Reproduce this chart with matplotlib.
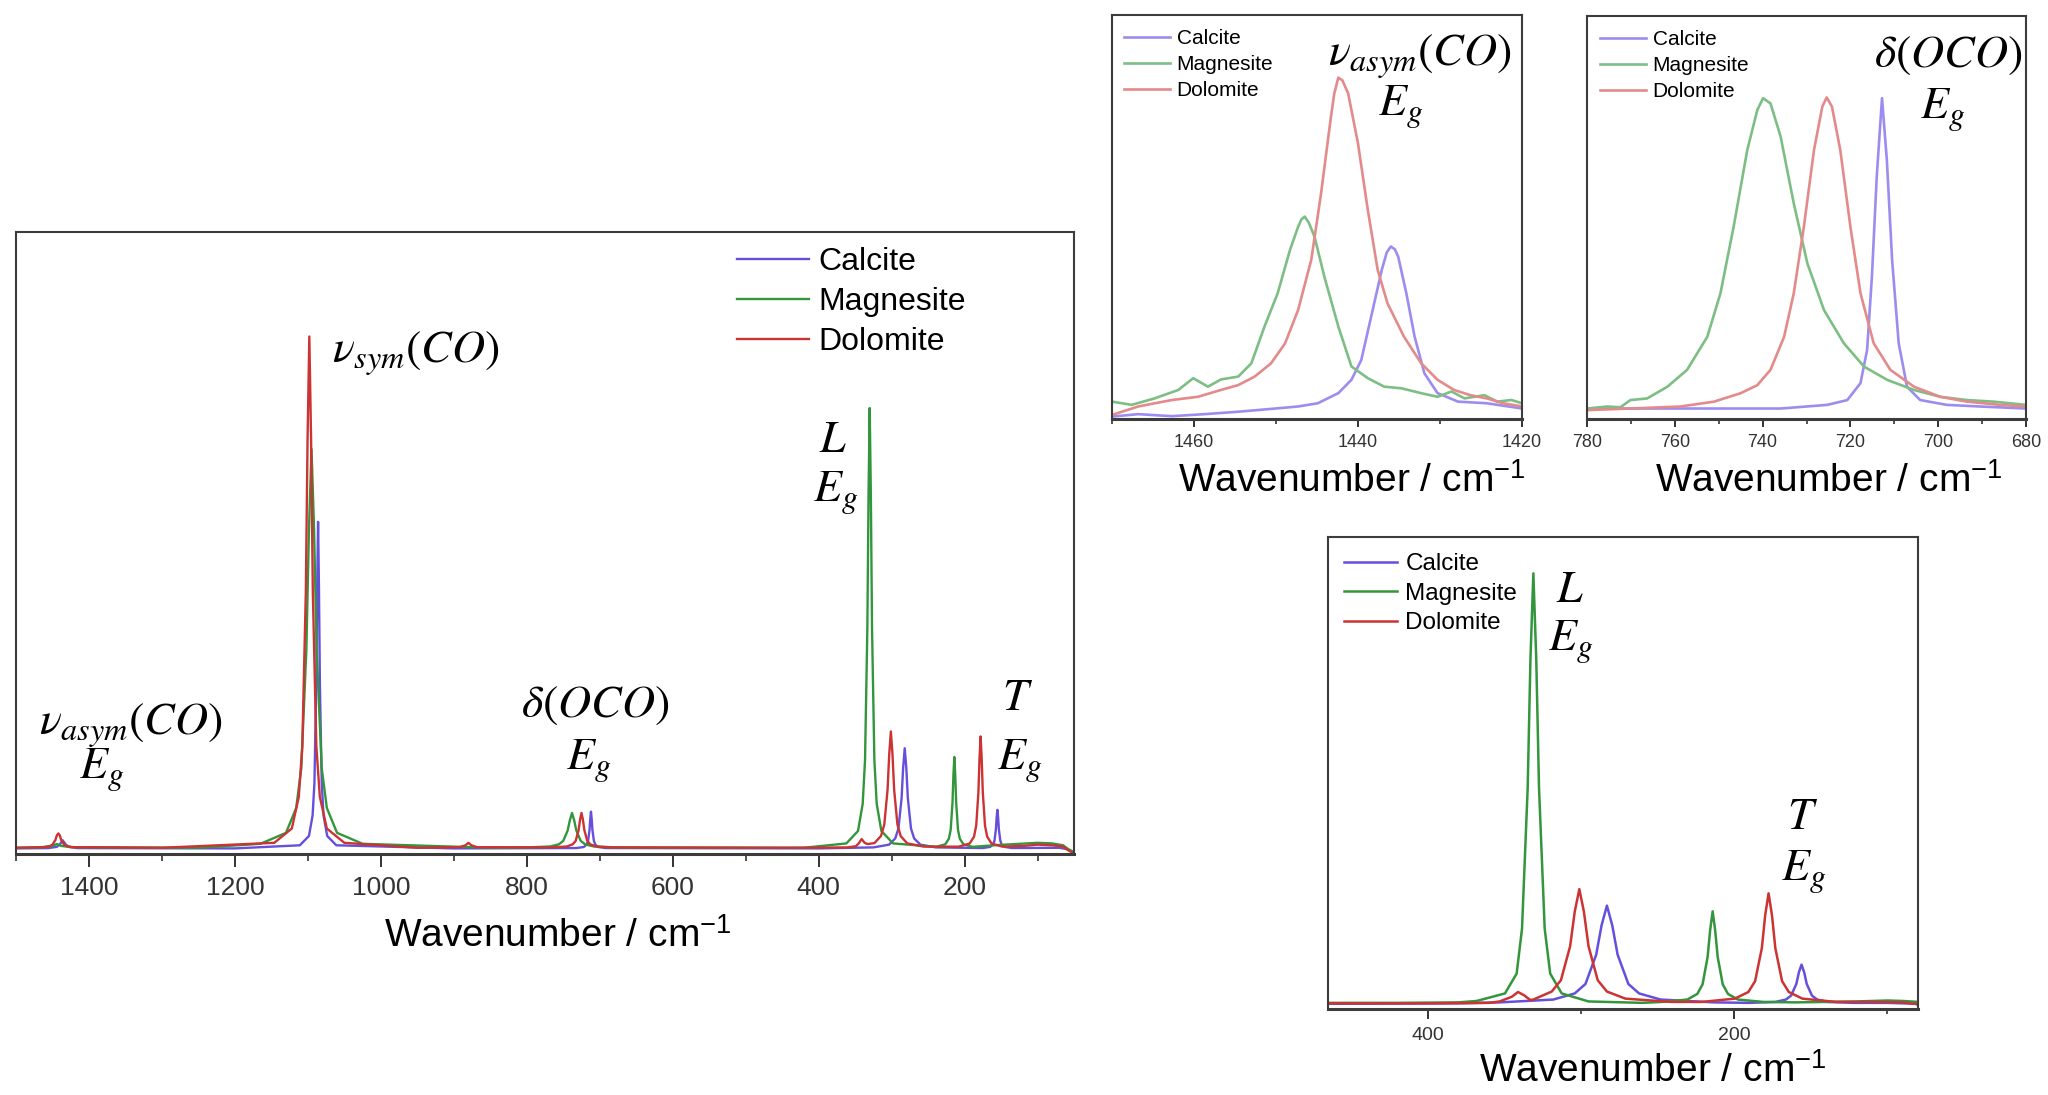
import matplotlib
matplotlib.use("Agg")
import matplotlib.pyplot as plt
from matplotlib.ticker import MultipleLocator

plt.rcParams['font.family'] = ['Liberation Sans', 'DejaVu Sans']
plt.rcParams['mathtext.fontset'] = 'stix'

series_names = ["Calcite", "Magnesite", "Dolomite"]

# ---------------- main panel (intensity in % of axis height) ----------------
main_cal_x = [1500, 1456, 1444, 1440, 1436, 1432, 1428, 1416, 1200, 1111, 1098.5, 1093.5, 1091, 1088.5, 1087.2,
              1086, 1084.8, 1083.5, 1081, 1078.5, 1073.5, 1061, 900, 732, 722, 718, 716, 714, 713, 712, 711, 710,
              708, 706, 702, 692, 400, 325, 303.5, 295, 290.6, 286.3, 284.2, 282, 279.8, 277.7, 273.4, 269.1,
              260.5, 239, 175, 165, 161, 159, 157, 156, 155, 154, 153, 151, 149, 145, 135, 70, 60, 50]
main_cal_y = [0.9, 0.95, 1.15, 1.55, 2.2, 1.55, 1.15, 0.95, 0.9, 1.4, 2.9, 6.2, 11.4, 27.2, 43, 53.4, 43, 27.2,
              11.4, 6.2, 2.9, 1.4, 0.9, 0.96, 1.12, 1.5, 2.1, 3.85, 5.6, 6.8, 5.6, 3.85, 2.1, 1.5, 1.12, 0.96, 0.9,
              1.06, 1.5, 2.5, 4.1, 8.95, 13.8, 17.0, 13.8, 8.95, 4.1, 2.5, 1.5, 1.06, 0.96, 1.14, 1.5, 2.14, 4.0,
              5.9, 7.1, 5.9, 4.0, 2.14, 1.5, 1.14, 0.96, 1.0, 0.8, 0.2]

main_mag_x = [1500, 1464, 1450, 1444, 1438, 1424, 1250, 1165, 1130, 1116, 1109, 1102, 1098.5, 1095, 1091.5, 1088,
              1081, 1074, 1060, 1025, 850, 798, 768, 756, 750, 744, 741, 738, 735, 732, 726, 720, 708, 678, 420,
              362, 346, 339.6, 336.4, 333.2, 331.6, 330, 328.4, 326.8, 323.6, 320.4, 314, 298, 239, 226.5, 221.5,
              219, 216.5, 215.25, 214, 212.75, 211.5, 209, 206.5, 201.5, 189, 160, 130, 100, 80, 65, 58, 50]
main_mag_y = [1.0, 1.1, 1.3, 1.6, 1.3, 1.1, 1.0, 1.64, 3.4, 7.4, 13.8, 33, 52.2, 65.1, 52.2, 33, 13.8, 7.4, 3.4,
              1.64, 1.0, 1.06, 1.21, 1.55, 2.1, 3.75, 5.4, 6.6, 5.4, 3.75, 2.1, 1.55, 1.21, 1.06, 1.0, 1.7, 3.7,
              8.07, 15.1, 36.35, 57.6, 71.7, 57.6, 36.35, 15.1, 8.07, 3.7, 1.7, 1.15, 1.55, 2.46, 3.9, 8.3, 12.7,
              15.6, 12.7, 8.3, 3.9, 2.46, 1.55, 1.15, 1.4, 1.6, 1.8, 1.7, 1.4, 0.8, 0.3]

main_dol_x = [1500, 1462, 1454, 1450, 1446, 1444, 1442, 1440, 1438, 1434, 1430, 1422, 1300, 1146, 1122, 1112.4,
              1107.6, 1102.8, 1100.4, 1098, 1095.6, 1093.2, 1088.4, 1083.6, 1074, 1050, 950, 892, 884, 880, 876,
              868, 765, 745, 737, 733, 729, 727, 725, 723, 721, 717, 713, 705, 685, 450, 361, 349, 345, 341, 337,
              333, 323.5, 314.5, 310, 305.5, 303.25, 301, 298.75, 296.5, 292, 287.5, 278.5, 256, 208, 193, 187,
              184, 181, 179.5, 178, 176.5, 175, 172, 169, 163, 148, 120, 100, 80, 65, 58, 50]
main_dol_y = [1.0, 1.1, 1.25, 1.5, 2.25, 3.0, 3.3, 3.0, 2.25, 1.5, 1.25, 1.1, 1.0, 1.8, 4.1, 9.2, 17.4, 42.1,
              66.8, 83.2, 66.8, 42.1, 17.4, 9.2, 4.1, 1.8, 1.0, 1.1, 1.4, 1.8, 1.4, 1.1, 1.06, 1.21, 1.56, 2.1,
              3.8, 5.5, 6.6, 5.5, 3.8, 2.1, 1.56, 1.21, 1.06, 1.0, 1.05, 1.25, 1.7, 2.4, 1.8, 1.6, 1.75, 2.9,
              4.74, 10.35, 16, 19.7, 16, 10.35, 4.74, 2.87, 1.71, 1.19, 1.18, 1.68, 2.79, 4.58, 9.95, 15.3, 18.9,
              15.3, 9.95, 4.58, 2.79, 1.68, 1.18, 1.3, 1.5, 1.4, 1.2, 0.6, 0.1]

# ---------------- inset: nu_asym region ----------------
asym_cal_x = [1470, 1466.8, 1462.7, 1458.7, 1454.6, 1450.6, 1447.3, 1444.9, 1442.4, 1440.8, 1439.6, 1438.4,
              1437.1, 1436.5, 1436.0, 1435.5, 1435.1, 1434.1, 1433.1, 1431.9, 1430.3, 1427.8, 1424.3, 1420]
asym_cal_y = [0.6, 1.2, 0.7, 1.2, 1.8, 2.5, 3.1, 3.9, 6.4, 9.7, 14.6, 25.3, 36.9, 41.2, 42.7, 42.0, 40.2, 31.1,
              20.4, 11.3, 6.4, 4.3, 3.9, 2.6]
asym_mag_x = [1470, 1467.6, 1464.8, 1461.9, 1460.1, 1458.3, 1456.7, 1454.6, 1453.0, 1451.4, 1449.8, 1448.3,
              1447.3, 1446.9, 1446.5, 1446.0, 1445.3, 1444.1, 1442.4, 1440.8, 1438.8, 1436.8, 1434.7, 1432.3,
              1430.3, 1428.6, 1427.0, 1424.6, 1423.0, 1421.3, 1420]
asym_mag_y = [4.3, 3.5, 5.1, 7.2, 10.1, 8.0, 9.8, 10.5, 13.8, 22.9, 31.1, 41.8, 47.6, 49.4, 50.1, 48.6, 45.1,
              35.2, 22.9, 13.0, 10.1, 8.0, 7.6, 6.4, 5.5, 6.8, 5.1, 5.9, 4.3, 4.7, 3.9]
asym_dol_x = [1470, 1466.8, 1462.7, 1459.5, 1456.7, 1454.6, 1452.6, 1450.6, 1448.9, 1447.3, 1445.7, 1444.5,
              1443.3, 1442.9, 1442.4, 1441.9, 1441.2, 1440.0, 1438.8, 1437.6, 1436.4, 1434.4, 1432.3, 1430.3,
              1428.3, 1426.3, 1424.3, 1422.3, 1420]
asym_dol_y = [1.0, 3.1, 4.7, 5.5, 7.2, 8.4, 10.5, 13.8, 18.7, 27.0, 39.4, 55.9, 74.8, 80.5, 84.5, 83.8, 80.6,
              68.2, 51.7, 36.9, 28.6, 20.4, 13.8, 9.7, 7.2, 5.9, 5.1, 3.9, 3.1]

# ---------------- inset: delta(OCO) region ----------------
oco_cal_x = [780, 758.7, 735.9, 725.3, 720.7, 717.7, 716.2, 715.1, 714.0, 712.8, 711.7, 710.5, 709.0, 707.1,
             704.1, 698.0, 690.4, 680]
oco_cal_y = [2.6, 2.6, 2.6, 3.5, 4.7, 8.9, 17.1, 35.3, 60.1, 79.6, 64.3, 39.5, 18.8, 8.0, 4.7, 3.5, 3.1, 2.6]
oco_mag_x = [780, 775.4, 772.4, 770.1, 766.3, 761.7, 757.2, 752.6, 749.6, 746.6, 743.5, 741.2, 739.9, 738.2,
             735.9, 732.9, 729.8, 726.0, 721.5, 716.9, 711.6, 705.5, 699.5, 693.4, 687.3, 680]
oco_mag_y = [2.6, 3.1, 2.9, 4.7, 5.1, 8.0, 12.2, 20.4, 31.2, 47.7, 66.7, 76.7, 79.6, 78.3, 70.1, 53.5, 38.6,
             27.0, 18.8, 13.0, 9.7, 7.2, 5.5, 4.7, 4.3, 3.5]
oco_dol_x = [780, 770.1, 758.7, 751.1, 745.0, 741.2, 738.2, 735.1, 732.9, 730.6, 728.3, 726.4, 725.4, 724.2,
             722.3, 720.0, 717.7, 714.7, 710.9, 705.5, 699.5, 693.4, 685.8, 680]
oco_dol_y = [2.2, 2.6, 3.1, 4.3, 6.4, 8.4, 12.2, 20.4, 31.2, 47.7, 66.7, 77.5, 79.8, 77.5, 66.7, 47.7, 31.2,
             18.8, 12.2, 8.0, 5.5, 4.3, 3.5, 3.1]

# ---------------- inset: lattice region ----------------
lat_cal_x = [465, 380, 353, 318, 304, 297, 290, 286.5, 283, 279.5, 276, 269, 262, 248, 213, 190, 173, 166.2,
             162.8, 159.4, 157.7, 156, 154.3, 152.6, 149.2, 145.8, 139, 122, 100, 80]
lat_cal_y = [1.1, 1.2, 1.4, 2.0, 3.3, 5.3, 11.5, 17.7, 21.9, 17.7, 11.5, 5.3, 3.3, 2.0, 1.4, 1.3, 1.5, 2.0,
             2.84, 5.3, 7.8, 9.4, 7.8, 5.3, 2.84, 2.0, 1.5, 1.3, 1.3, 1.1]
lat_mag_x = [465, 420, 380, 368, 349.5, 341.9, 338.4, 334.7, 332.9, 331, 329.1, 327.3, 323.6, 320, 312.5, 295,
             260, 247, 230.5, 224, 220.6, 217.3, 215.6, 214, 212.4, 210.7, 207.4, 204, 197.5, 181, 160, 120,
             100, 90, 80]
lat_mag_y = [1.3, 1.3, 1.4, 1.7, 3.3, 7.5, 17, 46.8, 74.1, 92.3, 74.1, 46.8, 17, 7.5, 3.3, 1.6, 1.3, 1.5, 2.0,
             3.2, 5.2, 11, 16.8, 20.7, 16.8, 11, 5.2, 3.2, 2.0, 1.5, 1.4, 1.6, 1.8, 1.7, 1.5]
lat_dol_x = [465, 400, 360, 353, 345, 341, 337, 333, 331, 319, 313, 307, 304, 301, 298, 295, 289, 283, 271, 241,
             221, 199.5, 190.7, 186.3, 181.9, 179.7, 177.5, 175.3, 173.1, 168.7, 164.3, 155.5, 133.5, 110, 90,
             82, 80]
lat_dol_y = [1.2, 1.2, 1.3, 1.6, 2.6, 3.6, 2.9, 1.9, 2.0, 3.7, 6.1, 13.3, 20.6, 25.4, 20.6, 13.3, 6.1, 3.7,
             2.2, 1.5, 1.5, 2.2, 3.6, 5.9, 12.9, 19.9, 24.5, 19.9, 12.9, 5.9, 3.6, 2.2, 1.5, 1.5, 1.4, 1.1, 0.9]

dark_colors = ['#6450DC', '#33963C', '#CC3333']
light_colors = ['#9C8CF0', '#7DBE84', '#E38A8A']

W, H = 2048, 1095
fig = plt.figure(figsize=(W / 100, H / 100), dpi=100)


def add_axes_px(left, top, right, bottom):
    return fig.add_axes([left / W, 1 - bottom / H, (right - left) / W, (bottom - top) / H])


def style_axes(ax, xlim, major, minor, tick_fs, tick_len, pad):
    ax.set_xlim(*xlim)
    ax.set_ylim(0, 100)
    ax.set_yticks([])
    ax.xaxis.set_major_locator(MultipleLocator(major))
    ax.xaxis.set_minor_locator(MultipleLocator(minor))
    ax.tick_params(axis='x', which='major', direction='out', length=tick_len, width=1.4,
                   labelsize=tick_fs, pad=pad, colors='#333333', top=False)
    ax.tick_params(axis='x', which='minor', direction='out', length=tick_len * 0.55, width=1.2,
                   top=False, colors='#333333')
    for s in ax.spines.values():
        s.set_color('#3c3c3c')
        s.set_linewidth(1.5)
    ax.spines['bottom'].set_linewidth(2.2)


def add_legend(ax, handles, x_px, top_px, fs, hl, htp, ls):
    ax.legend(handles, series_names, loc='upper left',
              bbox_to_anchor=(x_px / W, 1 - top_px / H), bbox_transform=fig.transFigure,
              frameon=False, fontsize=fs, handlelength=hl, handletextpad=htp,
              labelspacing=ls, borderpad=0, borderaxespad=0)


XLABEL = 'Wavenumber / cm$^{\\mathregular{-1}}$'
mfs = 33

# ---------------- main axes ----------------
ax = add_axes_px(16, 232, 1074, 854)
hs = []
for xs, ys, c in zip([main_cal_x, main_mag_x, main_dol_x], [main_cal_y, main_mag_y, main_dol_y], dark_colors):
    h, = ax.plot(xs, ys, color=c, lw=1.7)
    hs.append(h)
style_axes(ax, (1500, 50), 200, 100, 19, 9, 7)
add_legend(ax, hs, 737, 247, 23, 2.25, 0.3, 0.32)
ax.text(0.512, -0.132, XLABEL, transform=ax.transAxes, ha='center', va='center', fontsize=28)
ax.text(1342, 20.6, r'$\nu_{asym}(CO)$', ha='center', va='center', fontsize=mfs)
ax.text(1382, 13.5, r'$E_g$', ha='center', va='center', fontsize=mfs)
ax.text(952, 80.4, r'$\nu_{sym}(CO)$', ha='center', va='center', fontsize=mfs)
ax.text(706, 24, r'$\delta(OCO)$', ha='center', va='center', fontsize=mfs)
ax.text(715, 14.9, r'$E_g$', ha='center', va='center', fontsize=mfs)
ax.text(380, 66.6, r'$L$', ha='center', va='center', fontsize=mfs)
ax.text(377, 58, r'$E_g$', ha='center', va='center', fontsize=mfs)
ax.text(128, 25, r'$T$', ha='center', va='center', fontsize=mfs)
ax.text(125, 14.9, r'$E_g$', ha='center', va='center', fontsize=mfs)

# ---------------- inset: nu_asym ----------------
ax1 = add_axes_px(1112, 15, 1522, 419)
hs = []
for xs, ys, c in zip([asym_cal_x, asym_mag_x, asym_dol_x], [asym_cal_y, asym_mag_y, asym_dol_y], light_colors):
    h, = ax1.plot(xs, ys, color=c, lw=1.9)
    hs.append(h)
style_axes(ax1, (1470, 1420), 20, 10, 13, 6, 5)
add_legend(ax1, hs, 1124, 29, 15, 2.2, 0.32, 0.34)
ax1.text(0.585, -0.155, XLABEL, transform=ax1.transAxes, ha='center', va='center', fontsize=28)
ax1.text(1432.5, 89.6, r'$\nu_{asym}(CO)$', ha='center', va='center', fontsize=mfs)
ax1.text(1434.8, 77.2, r'$E_g$', ha='center', va='center', fontsize=mfs)

# ---------------- inset: delta(OCO) ----------------
ax2 = add_axes_px(1587, 16, 2026, 419)
hs = []
for xs, ys, c in zip([oco_cal_x, oco_mag_x, oco_dol_x], [oco_cal_y, oco_mag_y, oco_dol_y], light_colors):
    h, = ax2.plot(xs, ys, color=c, lw=1.9)
    hs.append(h)
style_axes(ax2, (780, 680), 20, 10, 13, 6, 5)
add_legend(ax2, hs, 1600, 30, 15, 2.2, 0.32, 0.34)
ax2.text(0.551, -0.155, XLABEL, transform=ax2.transAxes, ha='center', va='center', fontsize=28)
ax2.text(697.8, 90.3, r'$\delta(OCO)$', ha='center', va='center', fontsize=mfs)
ax2.text(699.1, 76.7, r'$E_g$', ha='center', va='center', fontsize=mfs)

# ---------------- inset: lattice modes ----------------
ax3 = add_axes_px(1328, 537, 1918, 1009)
hs = []
for xs, ys, c in zip([lat_cal_x, lat_mag_x, lat_dol_x], [lat_cal_y, lat_mag_y, lat_dol_y], dark_colors):
    h, = ax3.plot(xs, ys, color=c, lw=1.8)
    hs.append(h)
style_axes(ax3, (465, 80), 200, 100, 14, 7, 6)
add_legend(ax3, hs, 1344, 553, 17.5, 2.2, 0.33, 0.31)
ax3.text(0.551, -0.1335, XLABEL, transform=ax3.transAxes, ha='center', va='center', fontsize=28)
ax3.text(306.9, 88.8, r'$L$', ha='center', va='center', fontsize=mfs)
ax3.text(306.5, 77.8, r'$E_g$', ha='center', va='center', fontsize=mfs)
ax3.text(155.6, 40.7, r'$T$', ha='center', va='center', fontsize=mfs)
ax3.text(154.6, 29.0, r'$E_g$', ha='center', va='center', fontsize=mfs)

fig.savefig('out.png', dpi=100)
